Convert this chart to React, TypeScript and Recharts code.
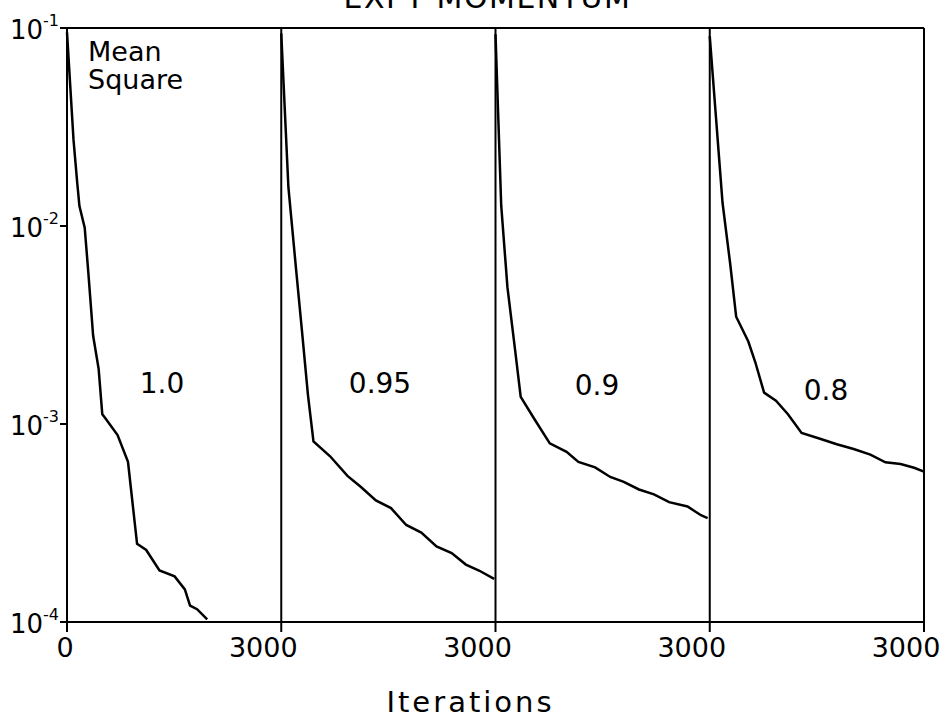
import React from "react";
import {
  LineChart,
  Line,
  XAxis,
  YAxis,
  ReferenceLine,
  ReferenceDot,
} from "recharts";

// iterations within each 3000-iteration panel, and the mean square error
const ITER_10 = [0, 91, 142, 174, 248, 299, 366, 443, 494, 537, 708, 854, 981, 1109, 1295, 1507, 1650, 1723, 1821, 1963];
const MS_10 = [0.095, 0.0273, 0.0167, 0.0126, 0.0098, 0.0058, 0.00279, 0.0019, 0.00112, 0.00107, 0.00088, 0.000644, 0.000248, 0.000231, 0.000182, 0.00017, 0.000146, 0.000121, 0.000116, 0.000103];

const ITER_095 = [0, 100, 209, 292, 373, 451, 684, 927, 1112, 1325, 1537, 1750, 1961, 2174, 2386, 2585, 2769, 2981];
const MS_095 = [0.094, 0.0157, 0.00597, 0.0029, 0.00141, 0.000817, 0.000687, 0.000547, 0.000482, 0.000411, 0.000376, 0.000309, 0.000283, 0.000241, 0.000223, 0.000195, 0.000182, 0.000165];

const ITER_09 = [0, 80, 167, 273, 353, 544, 760, 995, 1161, 1395, 1607, 1796, 2009, 2219, 2431, 2689, 2877, 2970];
const MS_09 = [0.093, 0.0127, 0.00491, 0.00239, 0.00137, 0.00106, 0.000798, 0.000723, 0.000644, 0.000604, 0.00054, 0.00051, 0.000467, 0.000441, 0.000403, 0.000383, 0.000346, 0.000335];

const ITER_08 = [0, 179, 287, 370, 540, 638, 761, 927, 1095, 1286, 1544, 1779, 2015, 2249, 2460, 2672, 2861, 3000];
const MS_08 = [0.091, 0.0131, 0.00641, 0.00348, 0.00261, 0.00205, 0.00144, 0.00131, 0.00112, 0.000902, 0.000843, 0.00079, 0.000748, 0.0007, 0.000641, 0.000628, 0.000601, 0.000575];

const MOMENTUM = ["1.0", "0.95", "0.9", "0.8"];
const PANEL_LEN = 3000;
const X_TICKS = [0, 3000, 6000, 9000, 12000];
const X_TICK_LABELS = ["0", "3000", "3000", "3000", "3000"];
const Y_TICKS = [0.1, 0.01, 0.001, 0.0001];
// where the momentum labels sit, in chart coordinates
const LABEL_X = [1330, 4383, 7421, 10627];
const LABEL_Y = [0.00161, 0.00161, 0.00157, 0.00149];

const panels = [
  [ITER_10, MS_10],
  [ITER_095, MS_095],
  [ITER_09, MS_09],
  [ITER_08, MS_08],
].map(([iters, ms], p) =>
  iters.map((it, i) => ({ x: p * PANEL_LEN + it, ms: ms[i] }))
);

const XTick = (props: any) => {
  const { x, y, payload } = props;
  const label = X_TICK_LABELS[X_TICKS.indexOf(payload.value)];
  // the 3000 labels sit a little left of their tick in the original
  const shift = payload.value === 0 ? -2 : -18;
  return (
    <text x={x + shift} y={y} dy="0.71em" textAnchor="middle" fontSize={27} fill="#000">
      {label}
    </text>
  );
};

const YTick = (props: any) => {
  const { x, y, payload } = props;
  const exp = Math.round(Math.log10(payload.value));
  return (
    <text x={x} y={y} dy={11} textAnchor="end" fontSize={26} fill="#000">
      10
      <tspan dy={-13} fontSize={16}>
        {exp}
      </tspan>
    </text>
  );
};

const MeanSquare = (props: any) => {
  const vb = props.viewBox;
  const x = vb.x + vb.width + 21;
  return (
    <g>
      <text x={x} y={vb.y + 33} fontSize={27} fill="#000">
        Mean
      </text>
      <text x={x} y={vb.y + 61} fontSize={27} fill="#000">
        Square
      </text>
    </g>
  );
};

export default function App() {
  return (
    <div
      style={{
        position: "absolute",
        left: 0,
        top: 0,
        width: 949,
        height: 718,
        background: "#fff",
        fontFamily: "'DejaVu Sans', sans-serif",
      }}
    >
      <LineChart
        width={949}
        height={718}
        margin={{ top: 28, right: 25, left: 0, bottom: 0 }}
      >
        <XAxis
          type="number"
          dataKey="x"
          domain={[0, 12000]}
          ticks={X_TICKS}
          height={96}
          tickSize={10}
          tickMargin={6}
          axisLine={{ stroke: "#000", strokeWidth: 2 }}
          tickLine={{ stroke: "#000", strokeWidth: 2 }}
          tick={<XTick />}
          label={{
            value: "Iterations",
            position: "insideBottom",
            offset: 6,
            dx: -25,
            fontSize: 29,
            letterSpacing: 3,
            fill: "#000",
          }}
        />
        <YAxis
          type="number"
          scale="log"
          domain={[0.0001, 0.1]}
          ticks={Y_TICKS}
          allowDataOverflow
          width={67}
          tickSize={7}
          tickMargin={1}
          axisLine={{ stroke: "#000", strokeWidth: 2 }}
          tickLine={{ stroke: "#000", strokeWidth: 2 }}
          tick={<YTick />}
          label={{ content: <MeanSquare /> }}
        />
        <ReferenceLine
          y={0.1}
          stroke="#000"
          strokeWidth={2}
          label={{
            value: "EXPT MOMENTUM",
            position: "top",
            offset: 20,
            dx: -8,
            fontSize: 30,
            letterSpacing: 1.5,
            fill: "#000",
          }}
        />
        {X_TICKS.slice(1).map((t) => (
          <ReferenceLine key={t} x={t} stroke="#000" strokeWidth={2} />
        ))}
        {MOMENTUM.map((m, i) => (
          <ReferenceDot
            key={m}
            x={LABEL_X[i]}
            y={LABEL_Y[i]}
            r={0}
            stroke="none"
            label={{ value: m, position: "center", fontSize: 28, fill: "#000" }}
          />
        ))}
        {panels.map((d, i) => (
          <Line
            key={MOMENTUM[i]}
            data={d}
            dataKey="ms"
            type="linear"
            stroke="#000"
            strokeWidth={2.5}
            dot={false}
            isAnimationActive={false}
          />
        ))}
      </LineChart>
    </div>
  );
}
